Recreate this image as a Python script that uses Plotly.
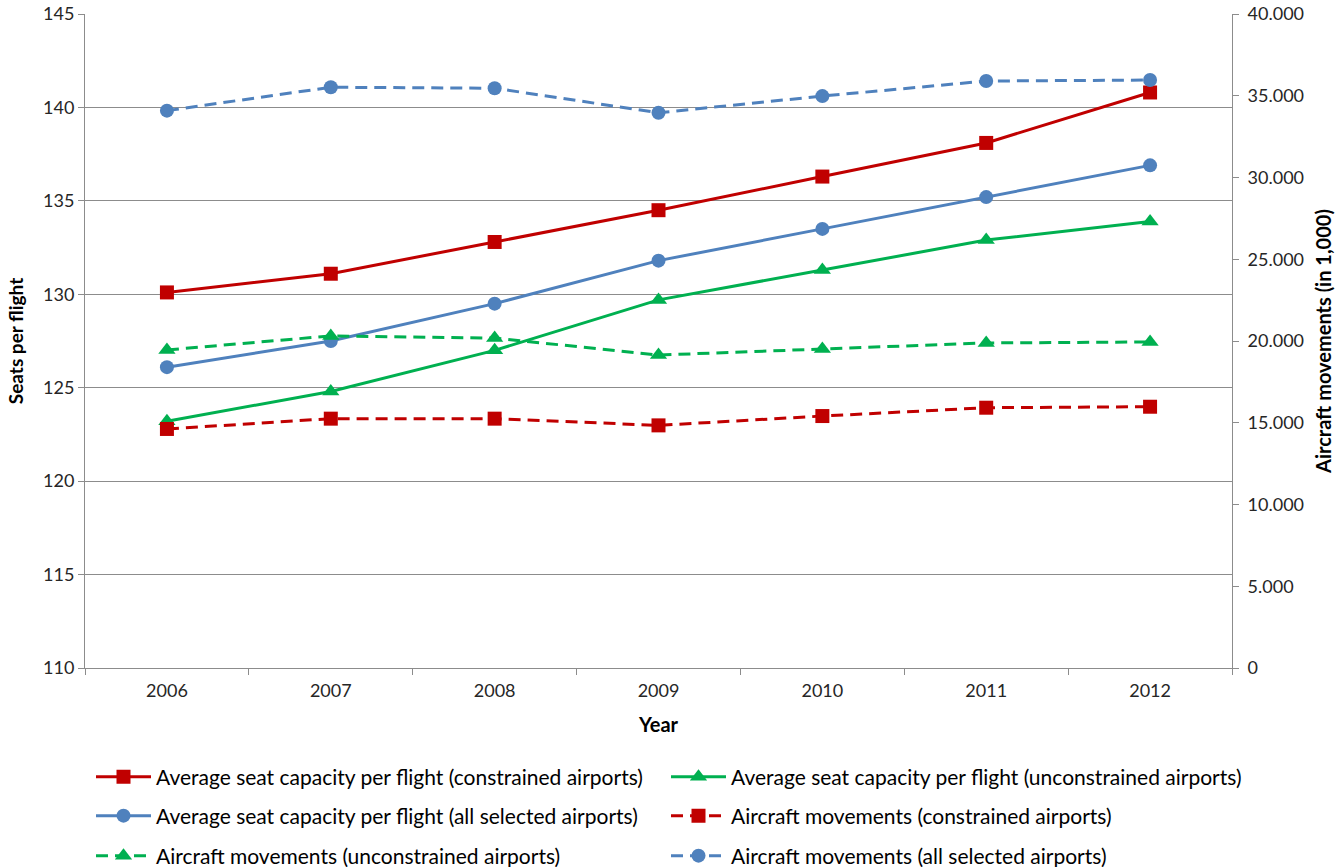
import plotly.graph_objects as go

years = ["2006", "2007", "2008", "2009", "2010", "2011", "2012"]

# Average seat capacity per flight (left axis)
seats_constrained = [130.1, 131.1, 132.8, 134.5, 136.3, 138.1, 140.8]
seats_unconstrained = [123.2, 124.8, 127.0, 129.7, 131.3, 132.9, 133.9]
seats_all = [126.1, 127.5, 129.5, 131.8, 133.5, 135.2, 136.9]

# Aircraft movements, in 1,000 (right axis)
moves_constrained = [14620, 15250, 15250, 14840, 15410, 15920, 15980]
moves_unconstrained = [19450, 20310, 20180, 19140, 19510, 19880, 19940]
moves_all = [34090, 35520, 35460, 33960, 34980, 35900, 35960]

RED = "#C00000"
GREEN = "#00B050"
BLUE = "#4F81BD"
GRID = "#8C8C8C"
FONT = "Lato"
W, H = 1335, 867

fig = go.Figure()

# name, values, colour, marker, dash, axis, legend id
series = [
    ("Average seat capacity per flight (constrained airports)", seats_constrained, RED, "square", "solid", "y", "legend"),
    ("Average seat capacity per flight (unconstrained airports)", seats_unconstrained, GREEN, "triangle-up", "solid", "y", "legend2"),
    ("Average seat capacity per flight (all selected airports)", seats_all, BLUE, "circle", "solid", "y", "legend3"),
    ("Aircraft movements (constrained airports)", moves_constrained, RED, "square", "12px,7px", "y2", "legend4"),
    ("Aircraft movements (unconstrained airports)", moves_unconstrained, GREEN, "triangle-up", "12px,7px", "y2", "legend5"),
    ("Aircraft movements (all selected airports)", moves_all, BLUE, "circle", "12px,7px", "y2", "legend6"),
]

for name, vals, color, symbol, dash, yax, leg in series:
    fig.add_trace(go.Scatter(
        x=years, y=vals, name=name, yaxis=yax, legend=leg,
        mode="lines+markers",
        line=dict(color=color, width=3, dash=dash),
        marker=dict(symbol=symbol, size=14 if symbol != "triangle-up" else 15, color=color),
    ))

# two legend columns, three rows (pixel positions within the page)
col_x = [91, 666]
row_y = [777, 816, 856]
legend_slots = [(0, 0), (1, 0), (0, 1), (1, 1), (0, 2), (1, 2)]

legends = {}
for i, (c, r) in enumerate(legend_slots):
    key = "legend" if i == 0 else f"legend{i + 1}"
    legends[key] = dict(
        xref="container", yref="container",
        x=col_x[c] / W, y=1 - row_y[r] / H,
        xanchor="left", yanchor="middle",
        orientation="h", itemwidth=55,
        font=dict(family=FONT, size=21, color="#000000"),
        bgcolor="rgba(0,0,0,0)", borderwidth=0,
    )

fig.update_layout(
    width=W, height=H,
    margin=dict(l=85, r=103, t=14, b=199, autoexpand=False),
    paper_bgcolor="white", plot_bgcolor="white",
    separators=",.",
    font=dict(family=FONT, size=18, color="#262626"),
    xaxis=dict(
        type="category", range=[-0.5, len(years) - 0.5],
        tickson="boundaries", ticks="outside", ticklen=6,
        tickcolor=GRID, showline=True, linecolor=GRID, linewidth=1,
        showgrid=False, ticklabelstandoff=6,
        tickfont=dict(size=18, color="#262626"),
        title=dict(text="<b>Year</b>", font=dict(family=FONT, size=20, color="#000000"), standoff=18),
    ),
    yaxis=dict(
        range=[110, 145], dtick=5, ticks="outside", ticklen=6, tickcolor=GRID,
        showline=True, linecolor=GRID, linewidth=1,
        showgrid=True, gridcolor=GRID, gridwidth=1, zeroline=False,
        tickfont=dict(size=18, color="#262626"),
        title=dict(text="<b>Seats per flight</b>", font=dict(family=FONT, size=19, color="#000000"), standoff=14),
    ),
    yaxis2=dict(
        overlaying="y", side="right", range=[0, 40000], dtick=5000,
        tickformat=",d", ticks="outside", ticklen=6, tickcolor=GRID,
        showline=True, linecolor=GRID, linewidth=1,
        showgrid=False, zeroline=False, ticklabelstandoff=5,
        tickfont=dict(size=18, color="#262626"),
        title=dict(text="<b>Aircraft movements (in 1,000)</b>", font=dict(family=FONT, size=20, color="#000000"), standoff=14),
    ),
    showlegend=True,
    **legends,
)

fig.write_html("out.html")
